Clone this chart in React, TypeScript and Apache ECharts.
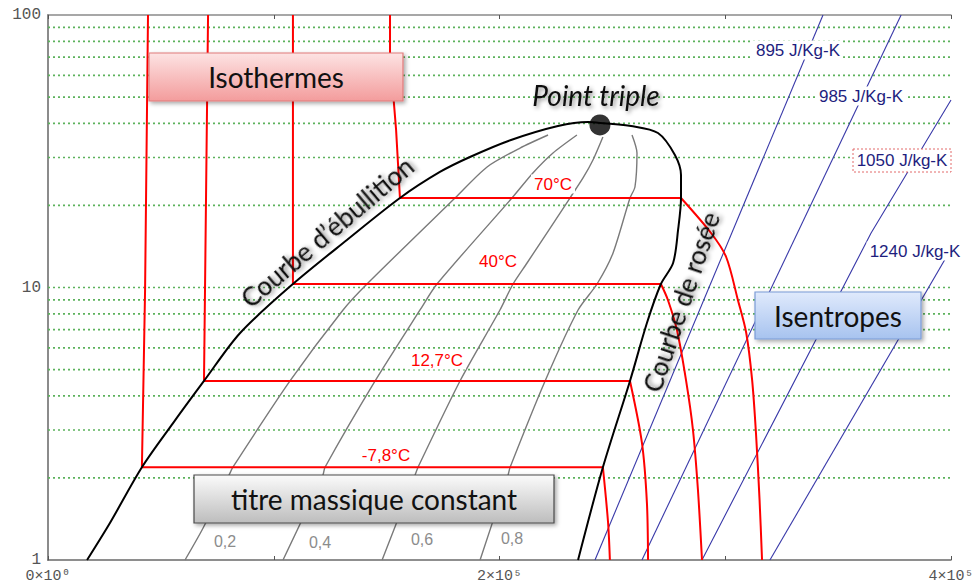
import React, { useEffect, useRef } from "react";
import * as echarts from "echarts";

type Pt = [number, number];

// Enthalpy h (J/kg) on x, pressure P (bar) on y (log)
const bubbleCurve: Pt[] = [
  [17300, 1.0], [27500, 1.37], [41600, 2.19], [55400, 3.18], [69100, 4.54],
  [85100, 6.81], [108500, 10.3], [132400, 14.94], [155900, 21.3], [173600, 26.54],
  [186900, 30.12], [205100, 34.78], [225900, 39.15], [239200, 40.49], [244500, 40.15],
];
const dewCurve: Pt[] = [
  [244500, 40.15], [258300, 39.15], [270200, 36.9], [277700, 30.64], [280400, 25.87],
  [280400, 21.3], [279100, 16.26], [276900, 12.3], [271500, 10.3], [265300, 7.41],
  [257800, 4.54], [245800, 2.19], [234800, 1.0],
];
const criticalPoint: Pt = [244500, 39.5];

// Isotherms: liquid branch + two-phase plateau, then superheated-vapour branch
const isoM78Liquid: Pt[] = [[44300, 100], [43000, 9.79], [41600, 2.19], [245800, 2.19]];
const isoM78Vapor: Pt[] = [[245800, 2.19], [248100, 1.37], [248900, 1]];
const iso127Liquid: Pt[] = [[70900, 100], [69100, 4.54], [257800, 4.54]];
const iso127Vapor: Pt[] = [[257800, 4.54], [263100, 2.69], [265300, 1.62], [265800, 1]];
const iso40Liquid: Pt[] = [[108500, 100], [108500, 10.3], [271500, 10.3]];
const iso40Vapor: Pt[] = [[271500, 10.3], [274600, 9.0], [278600, 6.98], [282600, 4.58], [285700, 3.0], [287900, 1.81], [289700, 1]];
const iso70Liquid: Pt[] = [[151500, 100], [151500, 71.3], [154200, 37.8], [155900, 21.3], [280400, 21.3]];
const iso70Vapor: Pt[] = [[280400, 21.3], [293700, 15.85], [300400, 12.94], [305600, 9.0], [309300, 6.81], [311900, 4.58], [313600, 2.93], [315200, 1.66], [316300, 1]];

// Constant vapour quality (titre massique)
const q02: Pt[] = [[60700, 1], [68700, 1.31], [80200, 2.05], [81900, 2.19], [107200, 4.54], [130700, 8.27], [141300, 10.3], [180300, 21.3], [194500, 27.69], [209100, 32.5], [221500, 36.28]];
const q04: Pt[] = [[104100, 1], [121800, 2.05], [122700, 2.19], [144900, 4.54], [164800, 8.27], [172300, 10.3], [205500, 21.3], [214800, 26.32], [223700, 31.16], [234300, 36.28]];
const q06: Pt[] = [[148000, 1], [162600, 2.05], [163900, 2.19], [182500, 4.54], [200200, 8.27], [206000, 10.3], [212200, 12.3], [231200, 21.3], [237000, 25.23], [241400, 29.37], [245800, 35.67]];
const q08: Pt[] = [[191400, 1], [203800, 2.05], [204700, 2.19], [220200, 4.54], [234800, 8.27], [243200, 10.3], [250300, 13.39], [257800, 21.3], [260000, 23.38], [260900, 31.16], [258700, 36.28]];

// Isentropes
const s895: Pt[] = [[343300, 100], [242300, 1]];
const s985: Pt[] = [[377900, 100], [263100, 1]];
const s1050: Pt[] = [[400000, 48.76], [364600, 15.85], [289700, 1]];
const s1240: Pt[] = [[400000, 13.84], [319800, 1]];

const pressureGrid = [2, 3, 4, 5, 6, 7, 8, 9, 10, 20, 30, 40, 50, 60, 70, 80, 90];

const xTickLabels: Record<number, string> = { 0: "0×10⁰", 200000: "2×10⁵", 400000: "4×10⁵" };
const isothermLabels = ["-7,8°C", "12,7°C", "40°C", "70°C"];
const qualityLabels = ["0,2", "0,4", "0,6", "0,8"];
const isentropeLabels = ["895 J/Kg-K", "985 J/Kg-K", "1050 J/kg-K", "1240 J/kg-K"];

const FONT = "Lato, 'Open Sans', sans-serif";
const SANS = "'Liberation Sans', Arial, sans-serif";
const MONO = "'Liberation Mono', 'DejaVu Sans Mono', monospace";

function lineSeries(data: Pt[], color: string, width: number, z: number, smooth: number | boolean = false) {
  return {
    type: "line",
    data,
    symbol: "none",
    showSymbol: false,
    silent: true,
    smooth,
    z,
    lineStyle: { color, width },
  };
}

export default function App() {
  const ref = useRef<HTMLDivElement>(null);

  useEffect(() => {
    if (!ref.current) return;
    const chart = echarts.init(ref.current, undefined, { renderer: "svg" });

    const gridSeries = pressureGrid.map((v) => ({
      type: "line",
      data: [[0, v], [400000, v]],
      symbol: "none",
      silent: true,
      z: 1,
      lineStyle: { color: "#5cb25c", width: 1.7, type: [2, 3] },
    }));

    const shadow = {
      textShadowColor: "rgba(0,0,0,0.45)",
      textShadowBlur: 4,
      textShadowOffsetX: 2,
      textShadowOffsetY: 2,
    };

    const grad = (c1: string, c2: string) =>
      new echarts.graphic.LinearGradient(0, 0, 0, 1, [
        { offset: 0, color: c1 },
        { offset: 1, color: c2 },
      ]);

    const box = (x: number, y: number, w: number, h: number, c1: string, c2: string, stroke: string, text: string) => [
      {
        type: "rect",
        z: 100,
        shape: { x, y, width: w, height: h },
        style: {
          fill: grad(c1, c2),
          stroke,
          lineWidth: 1.2,
          shadowBlur: 4,
          shadowColor: "rgba(0,0,0,0.35)",
          shadowOffsetX: 2,
          shadowOffsetY: 2,
        },
      },
      {
        type: "text",
        z: 101,
        x: x + w / 2,
        y: y + h / 2,
        style: {
          text,
          fontSize: 28,
          fontFamily: FONT,
          fill: "#111",
          align: "center",
          verticalAlign: "middle",
        },
      },
    ];

    const bgLabel = (text: string, x: number, y: number, color: string, size: number) => ({
      type: "text",
      z: 102,
      x,
      y,
      style: {
        text,
        fontSize: size,
        fontFamily: SANS,
        fill: color,
        align: "center",
        verticalAlign: "middle",
        backgroundColor: "#ffffff",
        padding: [1, 3],
      },
    });

    const isoPos: Pt[] = [[386, 455], [437, 360], [498, 261], [553, 184]];
    const qualPos: Pt[] = [[225, 541], [320, 542], [422, 539], [512, 538]];
    const isenPos: Pt[] = [[798, 50], [861, 96], [902, 160], [915, 251]];

    const graphics: any[] = [
      ...box(149, 53, 254, 48, "#fde3e3", "#f39c9c", "#e07a7a", "Isothermes"),
      ...box(755, 292, 166, 47, "#e0eafc", "#a7c3ef", "#7b9bd6", "Isentropes"),
      ...box(194, 475, 360, 48, "#fbfbfb", "#bdbdbd", "#4a4a4a", "titre massique constant"),
      {
        type: "rect",
        z: 101,
        shape: { x: 853, y: 149, width: 98, height: 23 },
        style: { fill: "#ffffff", stroke: "#e26a6a", lineWidth: 1, lineDash: [2, 2] },
      },
      ...isothermLabels.map((t, i) => bgLabel(t, isoPos[i][0], isoPos[i][1], "#ff0000", 17)),
      ...qualityLabels.map((t, i) => ({
        type: "text",
        z: 102,
        x: qualPos[i][0],
        y: qualPos[i][1],
        style: { text: t, fontSize: 16, fontFamily: SANS, fill: "#8c8c8c", align: "center", verticalAlign: "middle" },
      })),
      ...isentropeLabels.map((t, i) =>
        i === 2
          ? {
              type: "text",
              z: 103,
              x: isenPos[i][0],
              y: isenPos[i][1],
              style: { text: t, fontSize: 17, fontFamily: SANS, fill: "#1e1e7e", align: "center", verticalAlign: "middle" },
            }
          : bgLabel(t, isenPos[i][0], isenPos[i][1], "#1e1e7e", 17)
      ),
      {
        type: "text",
        z: 103,
        x: 596,
        y: 95,
        style: {
          text: "Point triple",
          fontSize: 28,
          fontStyle: "italic",
          fontFamily: FONT,
          fill: "#111",
          align: "center",
          verticalAlign: "middle",
          ...shadow,
        },
      },
      {
        type: "text",
        z: 103,
        x: 327,
        y: 232,
        rotation: (40.2 * Math.PI) / 180,
        style: {
          text: "Courbe d’ébullition",
          fontSize: 26,
          fontFamily: FONT,
          fill: "#111",
          align: "center",
          verticalAlign: "middle",
          ...shadow,
        },
      },
      {
        type: "text",
        z: 103,
        x: 681,
        y: 302,
        rotation: (71.3 * Math.PI) / 180,
        style: {
          text: "Courbe de rosée",
          fontSize: 26,
          fontFamily: FONT,
          fill: "#111",
          align: "center",
          verticalAlign: "middle",
          ...shadow,
        },
      },
    ];

    const option: any = {
      animation: false,
      backgroundColor: "#ffffff",
      grid: { left: 48, top: 15, width: 903, height: 545, containLabel: false },
      xAxis: [
        {
          type: "value",
          min: 0,
          max: 400000,
          interval: 100000,
          position: "bottom",
          axisLine: { show: true, lineStyle: { color: "#6a6a6a", width: 1.5 } },
          axisTick: { show: true, inside: true, length: 4, lineStyle: { color: "#555" } },
          axisLabel: {
            formatter: (v: number) => xTickLabels[v] ?? "",
            color: "#555",
            fontFamily: MONO,
            fontSize: 15,
            margin: 9,
          },
          splitLine: { show: false },
        },
        {
          type: "value",
          min: 0,
          max: 400000,
          interval: 100000,
          position: "top",
          axisLine: { show: true, lineStyle: { color: "#8a8a8a", width: 1.5 } },
          axisTick: { show: true, inside: true, length: 4, lineStyle: { color: "#555" } },
          axisLabel: { show: false },
          splitLine: { show: false },
        },
      ],
      yAxis: [
        {
          type: "log",
          logBase: 10,
          min: 1,
          max: 100,
          axisLine: { show: true, lineStyle: { color: "#6a6a6a", width: 1.5 } },
          axisTick: { show: false },
          axisLabel: { color: "#555", fontFamily: MONO, fontSize: 16, margin: 7 },
          splitLine: { show: false },
        },
        {
          type: "log",
          logBase: 10,
          min: 1,
          max: 100,
          position: "right",
          axisLine: { show: true, lineStyle: { color: "#8a8a8a", width: 1.5 } },
          axisTick: { show: false },
          axisLabel: { show: false },
          splitLine: { show: false },
        },
      ],
      series: [
        ...gridSeries,
        lineSeries(q02, "#7a7a7a", 1.4, 2, 0.25),
        lineSeries(q04, "#7a7a7a", 1.4, 2, 0.25),
        lineSeries(q06, "#7a7a7a", 1.4, 2, 0.25),
        lineSeries(q08, "#7a7a7a", 1.4, 2, 0.25),
        lineSeries(s895, "#3838a8", 1.1, 2),
        lineSeries(s985, "#3838a8", 1.1, 2),
        lineSeries(s1050, "#3838a8", 1.1, 2),
        lineSeries(s1240, "#3838a8", 1.1, 2),
        lineSeries(isoM78Liquid, "#ff0000", 2, 3),
        lineSeries(isoM78Vapor, "#ff0000", 2, 3, 0.3),
        lineSeries(iso127Liquid, "#ff0000", 2, 3),
        lineSeries(iso127Vapor, "#ff0000", 2, 3, 0.3),
        lineSeries(iso40Liquid, "#ff0000", 2, 3),
        lineSeries(iso40Vapor, "#ff0000", 2, 3, 0.3),
        lineSeries(iso70Liquid, "#ff0000", 2, 3),
        lineSeries(iso70Vapor, "#ff0000", 2, 3, 0.3),
        lineSeries(bubbleCurve, "#000000", 2, 4, 0.3),
        lineSeries(dewCurve, "#000000", 2, 4, 0.3),
        {
          type: "scatter",
          data: [criticalPoint],
          symbol: "circle",
          symbolSize: 21,
          silent: true,
          z: 5,
          itemStyle: { color: "#000000" },
        },
      ],
      graphic: { elements: graphics },
    };

    chart.setOption(option);
    return () => chart.dispose();
  }, []);

  return (
    <div
      ref={ref}
      style={{ position: "fixed", left: 0, top: 0, width: 978, height: 587, background: "#fff" }}
    />
  );
}
